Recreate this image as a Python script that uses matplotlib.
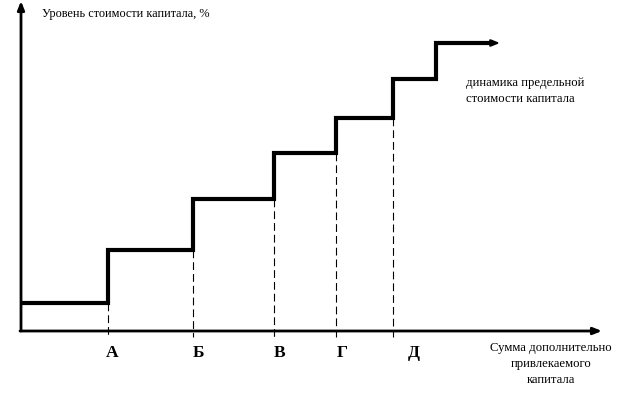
import matplotlib
matplotlib.use("Agg")
import matplotlib.pyplot as plt

# Data (units: relative to origin of the axes)
labels = ["А", "Б", "В", "Г", "Д"]
breaks = [87, 172, 253, 315, 372]          # capital amounts at which cost jumps
last_jump = 415
line_end = 479
levels = [28, 81, 132, 178, 213, 252, 288]  # cost of capital levels
y_title = "Уровень стоимости капитала, %"
x_title = "Сумма дополнительно\nпривлекаемого\nкапитала"
curve_label = "динамика предельной\nстоимости капитала"

fig = plt.figure(figsize=(6.37, 3.93), dpi=100)
ax = fig.add_axes([0, 0, 1, 1])
ax.set_xlim(-21, 616)
ax.set_ylim(-62, 331)
ax.axis("off")

serif = ["Liberation Serif", "DejaVu Serif"]
label_dx = [4, 5, 6, 6, 21]

# axes with arrows
ax.annotate("", xy=(0, 330), xytext=(0, 0),
            arrowprops=dict(arrowstyle="-|>,head_length=0.5,head_width=0.2", lw=2.0, color="black",
                            shrinkA=0, shrinkB=0))
ax.annotate("", xy=(581, 0), xytext=(-1, 0),
            arrowprops=dict(arrowstyle="-|>,head_length=0.5,head_width=0.2", lw=2.0, color="black",
                            shrinkA=0, shrinkB=0))

# step curve
xs = [0]
ys = [levels[0]]
all_breaks = breaks + [last_jump]
for i, b in enumerate(all_breaks):
    xs += [b, b]
    ys += [levels[i], levels[i + 1]]
xs.append(line_end - 8)
ys.append(levels[-1])
ax.plot(xs, ys, color="black", lw=3.0, solid_joinstyle="miter", solid_capstyle="butt")
ax.annotate("", xy=(line_end, levels[-1]), xytext=(line_end - 10, levels[-1]),
            arrowprops=dict(arrowstyle="-|>,head_length=0.5,head_width=0.2", lw=1.5, color="black",
                            shrinkA=0, shrinkB=0))

# dashed drop lines and letters
for i, (b, lab) in enumerate(zip(breaks, labels)):
    ax.plot([b, b], [levels[i], -6], color="black", lw=0.8, ls=(0, (7, 3.6)))
    ax.text(b + label_dx[i], -22, lab, ha="center", va="center", fontsize=12.5,
            fontweight="bold", family=serif)

ax.text(21, 317, y_title, ha="left", va="center", fontsize=8.8, family=serif)
ax.text(445, 240, curve_label, ha="left", va="center", fontsize=9.2, family=serif,
        linespacing=1.5)
ax.text(530, -33, x_title, ha="center", va="center", fontsize=9.2, family=serif,
        linespacing=1.4)

fig.savefig("out.png", dpi=100, facecolor="white")
